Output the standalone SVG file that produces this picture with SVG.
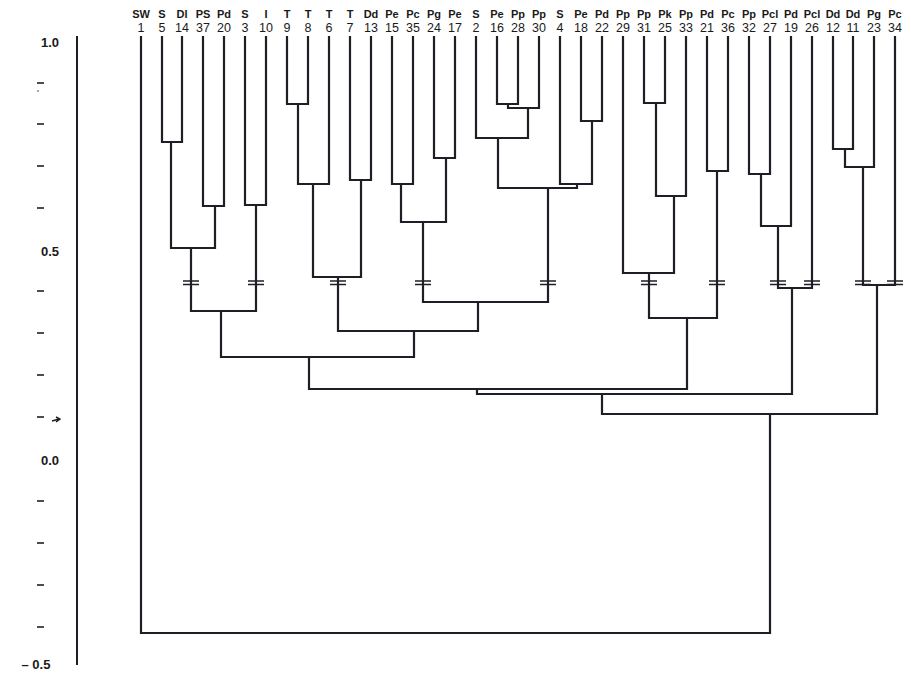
<svg xmlns="http://www.w3.org/2000/svg" width="911" height="678" viewBox="0 0 911 678">
<style>
  .ln { fill: none; stroke: #1e1e26; stroke-width: 2.2; stroke-linejoin: miter; stroke-linecap: square; }
  .brk { stroke: #1e1e26; stroke-width: 1.3; }
  .tick { stroke: #1e1e26; stroke-width: 1.6; }
  .sp { font-family: "Liberation Sans Narrow", "Liberation Sans", Arial, sans-serif; font-size: 11px; font-weight: bold; fill: #1a1a1a; text-anchor: middle; }
  .num { font-family: "Liberation Sans", Arial, sans-serif; font-size: 12.5px; fill: #1a1a1a; text-anchor: middle; }
  .ax { font-family: "Liberation Sans", Arial, sans-serif; font-size: 13px; font-weight: bold; fill: #1a1a1a; text-anchor: middle; }
</style>
<rect width="911" height="678" fill="#ffffff"/>

<g id="axis">
  <line x1="77" y1="36" x2="77" y2="665" stroke="#1e1e26" stroke-width="2"/>
  <text class="ax" x="50" y="47">1.0</text>
  <text class="ax" x="50" y="256">0.5</text>
  <text class="ax" x="50" y="465">0.0</text>
  <text class="ax" x="36" y="669">– 0.5</text>
  <g class="tick">
    <line x1="37" y1="83" x2="44" y2="83"/>
    <line x1="37" y1="124" x2="44" y2="124"/>
    <line x1="37" y1="166" x2="44" y2="166"/>
    <line x1="37" y1="208" x2="44" y2="208"/>
    <line x1="37" y1="291" x2="44" y2="291"/>
    <line x1="37" y1="333" x2="44" y2="333"/>
    <line x1="37" y1="375" x2="44" y2="375"/>
    <line x1="37" y1="417" x2="44" y2="417"/>
    <line x1="37" y1="501" x2="44" y2="501"/>
    <line x1="37" y1="543" x2="44" y2="543"/>
    <line x1="37" y1="585" x2="44" y2="585"/>
    <line x1="37" y1="627" x2="44" y2="627"/>
  </g>
  <circle cx="38" cy="91" r="0.8" fill="#333"/>
  <path d="M52 421 L59 419 M56 417 L60 419 L56 422" fill="none" stroke="#1e1e26" stroke-width="1.4"/>
</g>

<g id="leaves">
  <g id="n1"><text class="sp" x="141" y="18">SW</text><text class="num" x="141" y="32">1</text></g>
  <g id="n5"><text class="sp" x="162" y="18">S</text><text class="num" x="162" y="32">5</text></g>
  <g id="n14"><text class="sp" x="182" y="18">Dl</text><text class="num" x="182" y="32">14</text></g>
  <g id="n37"><text class="sp" x="203" y="18">PS</text><text class="num" x="203" y="32">37</text></g>
  <g id="n20"><text class="sp" x="224" y="18">Pd</text><text class="num" x="224" y="32">20</text></g>
  <g id="n3"><text class="sp" x="245" y="18">S</text><text class="num" x="245" y="32">3</text></g>
  <g id="n10"><text class="sp" x="266" y="18">I</text><text class="num" x="266" y="32">10</text></g>
  <g id="n9"><text class="sp" x="287" y="18">T</text><text class="num" x="287" y="32">9</text></g>
  <g id="n8"><text class="sp" x="308" y="18">T</text><text class="num" x="308" y="32">8</text></g>
  <g id="n6"><text class="sp" x="329" y="18">T</text><text class="num" x="329" y="32">6</text></g>
  <g id="n7"><text class="sp" x="350" y="18">T</text><text class="num" x="350" y="32">7</text></g>
  <g id="n13"><text class="sp" x="371" y="18">Dd</text><text class="num" x="371" y="32">13</text></g>
  <g id="n15"><text class="sp" x="392" y="18">Pe</text><text class="num" x="392" y="32">15</text></g>
  <g id="n35"><text class="sp" x="413" y="18">Pc</text><text class="num" x="413" y="32">35</text></g>
  <g id="n24"><text class="sp" x="434" y="18">Pg</text><text class="num" x="434" y="32">24</text></g>
  <g id="n17"><text class="sp" x="455" y="18">Pe</text><text class="num" x="455" y="32">17</text></g>
  <g id="n2"><text class="sp" x="476" y="18">S</text><text class="num" x="476" y="32">2</text></g>
  <g id="n16"><text class="sp" x="497" y="18">Pe</text><text class="num" x="497" y="32">16</text></g>
  <g id="n28"><text class="sp" x="518" y="18">Pp</text><text class="num" x="518" y="32">28</text></g>
  <g id="n30"><text class="sp" x="539" y="18">Pp</text><text class="num" x="539" y="32">30</text></g>
  <g id="n4"><text class="sp" x="560" y="18">S</text><text class="num" x="560" y="32">4</text></g>
  <g id="n18"><text class="sp" x="581" y="18">Pe</text><text class="num" x="581" y="32">18</text></g>
  <g id="n22"><text class="sp" x="602" y="18">Pd</text><text class="num" x="602" y="32">22</text></g>
  <g id="n29"><text class="sp" x="623" y="18">Pp</text><text class="num" x="623" y="32">29</text></g>
  <g id="n31"><text class="sp" x="644" y="18">Pp</text><text class="num" x="644" y="32">31</text></g>
  <g id="n25"><text class="sp" x="665" y="18">Pk</text><text class="num" x="665" y="32">25</text></g>
  <g id="n33"><text class="sp" x="686" y="18">Pp</text><text class="num" x="686" y="32">33</text></g>
  <g id="n21"><text class="sp" x="707" y="18">Pd</text><text class="num" x="707" y="32">21</text></g>
  <g id="n36"><text class="sp" x="728" y="18">Pc</text><text class="num" x="728" y="32">36</text></g>
  <g id="n32"><text class="sp" x="749" y="18">Pp</text><text class="num" x="749" y="32">32</text></g>
  <g id="n27"><text class="sp" x="770" y="18">Pcl</text><text class="num" x="770" y="32">27</text></g>
  <g id="n19"><text class="sp" x="791" y="18">Pd</text><text class="num" x="791" y="32">19</text></g>
  <g id="n26"><text class="sp" x="812" y="18">Pcl</text><text class="num" x="812" y="32">26</text></g>
  <g id="n12"><text class="sp" x="833" y="18">Dd</text><text class="num" x="833" y="32">12</text></g>
  <g id="n11"><text class="sp" x="853" y="18">Dd</text><text class="num" x="853" y="32">11</text></g>
  <g id="n23"><text class="sp" x="874" y="18">Pg</text><text class="num" x="874" y="32">23</text></g>
  <g id="n34"><text class="sp" x="895" y="18">Pc</text><text class="num" x="895" y="32">34</text></g>
</g>

<g id="connectors" class="ln">
  <path d="M162 37 V142 H182 V37"/>
  <path d="M203 37 V206 H224 V37"/>
  <path d="M245 37 V205 H266 V37"/>
  <path d="M171 142 V248 H215 V206"/>
  <path d="M191 248 V311 H256 V205"/>
  <path d="M287 37 V104 H308 V37"/>
  <path d="M298 104 V184 H329 V37"/>
  <path d="M350 37 V180 H371 V37"/>
  <path d="M313 184 V277 H361 V180"/>
  <path d="M392 37 V184 H413 V37"/>
  <path d="M434 37 V158 H455 V37"/>
  <path d="M401 184 V222 H446 V158"/>
  <path d="M497 37 V104 H518 V37"/>
  <path d="M508 104 V108 H539 V37"/>
  <path d="M476 37 V138 H528 V108"/>
  <path d="M581 37 V121 H602 V37"/>
  <path d="M560 37 V184 H592 V121"/>
  <path d="M498 138 V188 H577 V184"/>
  <path d="M423 222 V302 H548 V188"/>
  <path d="M338 277 V331 H478 V302"/>
  <path d="M221 311 V357 H414 V331"/>
  <path d="M644 37 V103 H665 V37"/>
  <path d="M656 103 V196 H686 V37"/>
  <path d="M623 37 V273 H674 V196"/>
  <path d="M707 37 V171 H728 V37"/>
  <path d="M649 273 V318 H717 V171"/>
  <path d="M309 357 V389 H687 V318"/>
  <path d="M749 37 V174 H770 V37"/>
  <path d="M761 174 V226 H791 V37"/>
  <path d="M778 226 V288 H812 V37"/>
  <path d="M477 389 V394 H792 V288"/>
  <path d="M833 37 V149 H853 V37"/>
  <path d="M845 149 V167 H874 V37"/>
  <path d="M863 167 V285 H895 V37"/>
  <path d="M602 394 V414 H877 V285"/>
  <path d="M141 37 V633 H770 V414"/>
</g>

<g id="breaks" class="brk">
  <path d="M183 281 H199 M183 284.5 H199"/>
  <path d="M248 281 H264 M248 284.5 H264"/>
  <path d="M330 281 H346 M330 284.5 H346"/>
  <path d="M415 281 H431 M415 284.5 H431"/>
  <path d="M540 281 H556 M540 284.5 H556"/>
  <path d="M641 281 H657 M641 284.5 H657"/>
  <path d="M709 281 H725 M709 284.5 H725"/>
  <path d="M770 281 H786 M770 284.5 H786"/>
  <path d="M804 281 H820 M804 284.5 H820"/>
  <path d="M855 281 H871 M855 284.5 H871"/>
  <path d="M887 281 H903 M887 284.5 H903"/>
</g>
</svg>
